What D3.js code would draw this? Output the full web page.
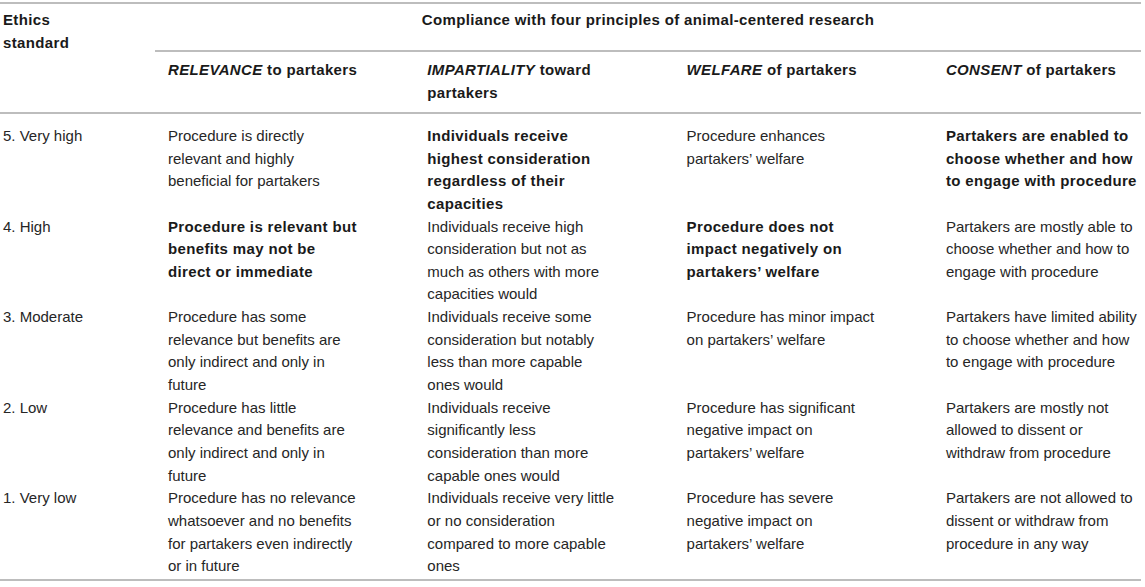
<!DOCTYPE html>
<html lang="en">
<head>
    <meta charset="UTF-8">
    <title>Ethics standards of animal-centered research</title>
    <script src="https://d3js.org/d3.v7.min.js"></script>
    <style>
        body { margin: 0; background: #fff; }
        text { font-family: "Liberation Sans", Arial, Helvetica, sans-serif; font-size: 15px; fill: #262626; }
        .bold { font-weight: bold; letter-spacing: 0.35px; fill: #1a1a1a; }
        .rule { stroke: #bdbdbd; stroke-width: 2; }
    </style>
</head>
<body>
    <div id="table"></div>
    <script>
        // Table content, one array per column (line breaks as printed)
        const standards = ["5. Very high", "4. High", "3. Moderate", "2. Low", "1. Very low"];

        const principles = ["RELEVANCE", "IMPARTIALITY", "WELFARE", "CONSENT"];
        const principleTails = [[" to partakers"], [" toward", "partakers"], [" of partakers"], [" of partakers"]];

        const relevance = [
            ["Procedure is directly", "relevant and highly", "beneficial for partakers"],
            ["Procedure is relevant but", "benefits may not be", "direct or immediate"],
            ["Procedure has some", "relevance but benefits are", "only indirect and only in", "future"],
            ["Procedure has little", "relevance and benefits are", "only indirect and only in", "future"],
            ["Procedure has no relevance", "whatsoever and no benefits", "for partakers even indirectly", "or in future"]
        ];
        const impartiality = [
            ["Individuals receive", "highest consideration", "regardless of their", "capacities"],
            ["Individuals receive high", "consideration but not as", "much as others with more", "capacities would"],
            ["Individuals receive some", "consideration but notably", "less than more capable", "ones would"],
            ["Individuals receive", "significantly less", "consideration than more", "capable ones would"],
            ["Individuals receive very little", "or no consideration", "compared to more capable", "ones"]
        ];
        const welfare = [
            ["Procedure enhances", "partakers\u2019 welfare"],
            ["Procedure does not", "impact negatively on", "partakers\u2019 welfare"],
            ["Procedure has minor impact", "on partakers\u2019 welfare"],
            ["Procedure has significant", "negative impact on", "partakers\u2019 welfare"],
            ["Procedure has severe", "negative impact on", "partakers\u2019 welfare"]
        ];
        const consent = [
            ["Partakers are enabled to", "choose whether and how", "to engage with procedure"],
            ["Partakers are mostly able to", "choose whether and how to", "engage with procedure"],
            ["Partakers have limited ability", "to choose whether and how", "to engage with procedure"],
            ["Partakers are mostly not", "allowed to dissent or", "withdraw from procedure"],
            ["Partakers are not allowed to", "dissent or withdraw from", "procedure in any way"]
        ];
        // which standard is set in bold for each principle
        const boldRow = ["4. High", "5. Very high", "4. High", "5. Very high"];

        const columns = [relevance, impartiality, welfare, consent];

        const W = 1145, H = 587, lineH = 22.6;

        const svg = d3.select("#table").append("svg")
            .attr("width", W)
            .attr("height", H);

        // Column and row scales
        const x = d3.scaleBand()
            .domain(principles)
            .range([168, 168 + 4 * 259.3]);
        const y = d3.scaleBand()
            .domain(standards)
            .range([125, 578]);

        // Rules
        svg.append("line").attr("class", "rule").attr("x1", 0).attr("x2", 1141).attr("y1", 3).attr("y2", 3);
        svg.append("line").attr("class", "rule").attr("x1", 155).attr("x2", 1141).attr("y1", 51).attr("y2", 51);
        svg.append("line").attr("class", "rule").attr("x1", 0).attr("x2", 1141).attr("y1", 113).attr("y2", 113);
        svg.append("line").attr("class", "rule").attr("x1", 0).attr("x2", 1141).attr("y1", y.range()[1] + 2).attr("y2", y.range()[1] + 2);

        // Header
        const ethics = svg.append("text").attr("class", "bold").attr("x", 3).attr("y", 25);
        ethics.append("tspan").attr("x", 3).text("Ethics");
        ethics.append("tspan").attr("x", 3).attr("dy", lineH).text("standard");

        svg.append("text")
            .attr("class", "bold")
            .attr("x", (155 + 1141) / 2)
            .attr("y", 25)
            .attr("text-anchor", "middle")
            .text("Compliance with four principles of animal-centered research");

        principles.forEach((p, i) => {
            const t = svg.append("text").attr("class", "bold").attr("x", x(p)).attr("y", 75);
            t.append("tspan").style("font-style", "italic").text(p);
            const tail = principleTails[i];
            t.append("tspan").text(tail[0]);
            tail.slice(1).forEach(s => t.append("tspan").attr("x", x(p)).attr("dy", lineH).text(s));
        });

        // Row labels
        svg.selectAll(".std")
            .data(standards)
            .join("text")
            .attr("class", "std")
            .attr("x", 3)
            .attr("y", d => y(d) + 16)
            .text(d => d);

        // Cells
        columns.forEach((col, ci) => {
            const p = principles[ci];
            col.forEach((lines, ri) => {
                const std = standards[ri];
                const t = svg.append("text")
                    .attr("class", boldRow[ci] === std ? "bold" : null)
                    .attr("x", x(p))
                    .attr("y", y(std) + 16);
                t.selectAll("tspan")
                    .data(lines)
                    .join("tspan")
                    .attr("x", x(p))
                    .attr("dy", (d, i) => i === 0 ? 0 : lineH)
                    .text(d => d);
            });
        });
    </script>
</body>
</html>
